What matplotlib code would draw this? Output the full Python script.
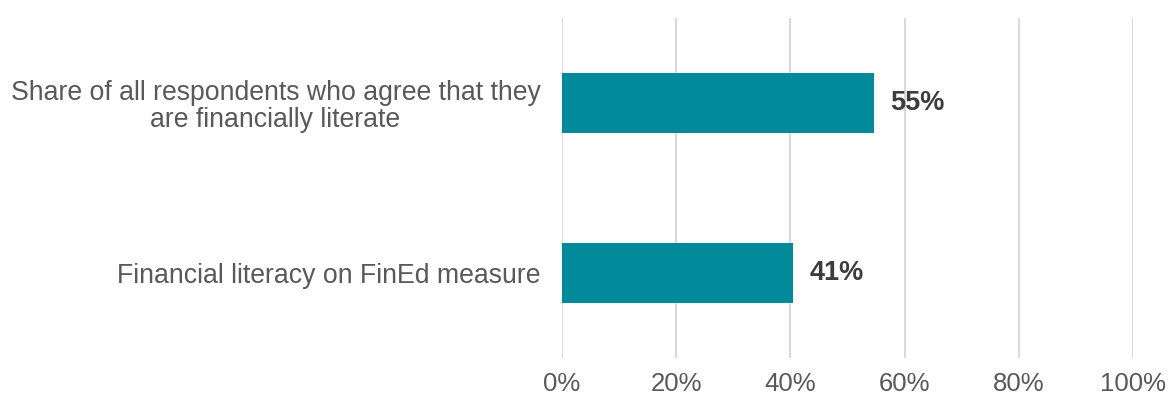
import matplotlib
matplotlib.use("Agg")
import matplotlib.pyplot as plt
from matplotlib.ticker import FuncFormatter

# data
categories = ["Financial literacy on FinEd measure",
              "Share of all respondents who agree that they\nare financially literate"]
values = [40.5, 54.6]
value_labels = ["41%", "55%"]
ticks = [0, 20, 40, 60, 80, 100]

plt.rcParams['font.family'] = ['Liberation Sans', 'DejaVu Sans']

fig = plt.figure(figsize=(11.69, 3.94), dpi=100)
ax = fig.add_axes([562/1169, 1-358/394, (1133-562)/1169, 340/394])

ax.barh(range(len(values)), values, height=0.353, color='#008a9a', zorder=3)
for i, v in enumerate(values):
    ax.text(v + 2.9, i, value_labels[i], va='center', ha='left', fontsize=19.5,
            fontweight='bold', color='#3d3d3d')

ax.set_xlim(0, 100)
ax.set_ylim(-0.5, 1.5)
ax.set_xticks(ticks)
ax.xaxis.set_major_formatter(FuncFormatter(lambda x, p: f"{x:.0f}%"))
ax.set_yticks(range(len(categories)))
ax.set_yticklabels(categories, multialignment='center', linespacing=1.05)
ax.tick_params(axis='x', length=0, pad=10, labelsize=18.5, labelcolor='#595959')
ax.tick_params(axis='y', length=0, pad=15.5, labelsize=19.2, labelcolor='#595959')
ax.grid(axis='x', color='#d9d9d9', linewidth=1.5, zorder=0)
for s in ax.spines.values():
    s.set_visible(False)

fig.savefig("out.png", dpi=100)
